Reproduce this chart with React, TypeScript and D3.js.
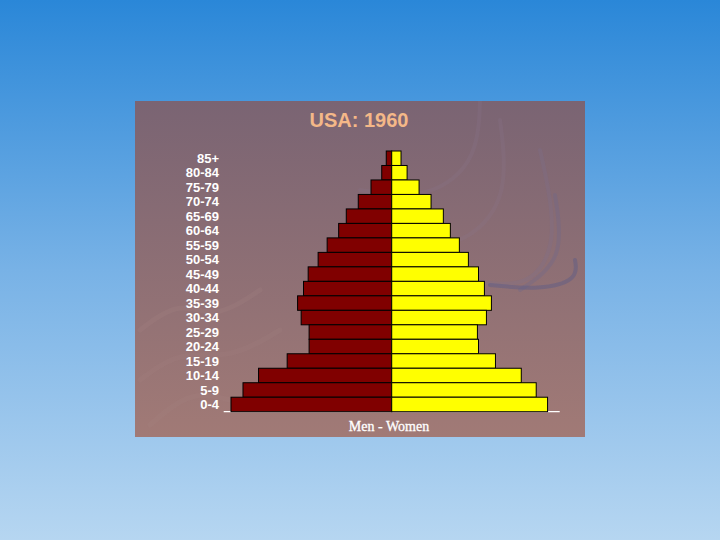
import React from "react";
import * as d3 from "d3";

const ageGroups = ["85+", "80-84", "75-79", "70-74", "65-69", "60-64", "55-59", "50-54", "45-49", "40-44", "35-39", "30-34", "25-29", "20-24", "15-19", "10-14", "5-9", "0-4"];
// population in millions
const men = [0.35, 0.64, 1.33, 2.15, 2.92, 3.41, 4.15, 4.73, 5.37, 5.67, 6.05, 5.82, 5.31, 5.31, 6.72, 8.56, 9.56, 10.33];
const women = [0.60, 0.99, 1.76, 2.53, 3.32, 3.77, 4.35, 4.93, 5.58, 5.96, 6.41, 6.09, 5.51, 5.58, 6.67, 8.33, 9.29, 10.02];
const title = "USA: 1960";
const axisLabel = "Men - Women";

const W = 720, H = 540;
const panel = { x: 135, y: 101, w: 450, h: 336 };
const center = 391.7;
const half = 168;
const plotTop = 151, plotBottom = 411.7;

export default function App() {
  const x = d3.scaleLinear().domain([-10.8, 10.8]).range([center - half, center + half]);
  const y = d3.scaleBand<string>().domain(ageGroups).range([plotTop, plotBottom]).padding(0);
  const bw = y.bandwidth();

  const swirl = d3.line<[number, number]>().curve(d3.curveBasis);

  return (
    <svg width={W} height={H} style={{ position: "absolute", left: 0, top: 0 }}>
      <defs>
        <linearGradient id="bg" x1="0" y1="0" x2="0" y2="1">
          <stop offset="0" stopColor="#2a87d8" />
          <stop offset="0.5" stopColor="#78b2e6" />
          <stop offset="1" stopColor="#b6d6f1" />
        </linearGradient>
        <linearGradient id="pn" x1="0" y1="0" x2="0" y2="1">
          <stop offset="0" stopColor="#7a6473" />
          <stop offset="1" stopColor="#a17a76" />
        </linearGradient>
        <clipPath id="pc">
          <rect x={panel.x} y={panel.y} width={panel.w} height={panel.h} />
        </clipPath>
      </defs>
      <rect x={0} y={0} width={W} height={H} fill="url(#bg)" />
      <rect x={panel.x} y={panel.y} width={panel.w} height={panel.h} fill="url(#pn)" />
      <g clipPath="url(#pc)" fill="none" strokeLinecap="round">
        <path d={swirl([[480, 100], [478, 160], [430, 200], [360, 190]]) || ""} stroke="#8a7890" strokeWidth={4} opacity={0.2} />
        <path d={swirl([[500, 120], [510, 200], [460, 250], [400, 240]]) || ""} stroke="#8a7890" strokeWidth={4} opacity={0.2} />
        <path d={swirl([[540, 150], [560, 240], [530, 290], [470, 280]]) || ""} stroke="#7c7090" strokeWidth={4} opacity={0.25} />
        <path d={swirl([[555, 195], [565, 260], [520, 290]]) || ""} stroke="#6a6890" strokeWidth={4} opacity={0.3} />
        <path d={swirl([[575, 260], [578, 280], [540, 290], [490, 285]]) || ""} stroke="#5a5a88" strokeWidth={4} opacity={0.45} />
        <path d={swirl([[140, 330], [180, 300], [215, 320], [260, 290]]) || ""} stroke="#b08c8c" strokeWidth={5} opacity={0.15} />
        <path d={swirl([[140, 380], [180, 350], [230, 360], [280, 330]]) || ""} stroke="#b08c8c" strokeWidth={5} opacity={0.12} />
        <path d={swirl([[150, 425], [190, 390], [230, 400]]) || ""} stroke="#b08c8c" strokeWidth={5} opacity={0.12} />
      </g>
      <text x={359} y={126.7} textAnchor="middle" fontFamily="Liberation Sans, Arial, sans-serif" fontWeight="bold" fontSize={20} fill="#f4b888">{title}</text>
      <line x1={x(-10.8)} x2={x(10.8)} y1={plotBottom} y2={plotBottom} stroke="#ffffff" strokeWidth={1.2} />
      {ageGroups.map((g, i) => (
        <g key={g}>
          <rect x={x(-men[i])} y={y(g)} width={x(0) - x(-men[i])} height={bw} fill="#800000" stroke="#000" strokeWidth={1} />
          <rect x={x(0)} y={y(g)} width={x(women[i]) - x(0)} height={bw} fill="#ffff00" stroke="#000" strokeWidth={1} />
          <text x={219} y={(y(g) as number) + bw / 2} dy="0.36em" textAnchor="end" fontFamily="Liberation Sans, Arial, sans-serif" fontWeight="bold" fontSize={13} fill="#ffffff">{g}</text>
        </g>
      ))}
      <text x={389} y={430.7} textAnchor="middle" fontFamily="Liberation Serif, Times New Roman, serif" fontSize={14} fill="#ffffff" stroke="#ffffff" strokeWidth={0.3}>{axisLabel}</text>
    </svg>
  );
}
